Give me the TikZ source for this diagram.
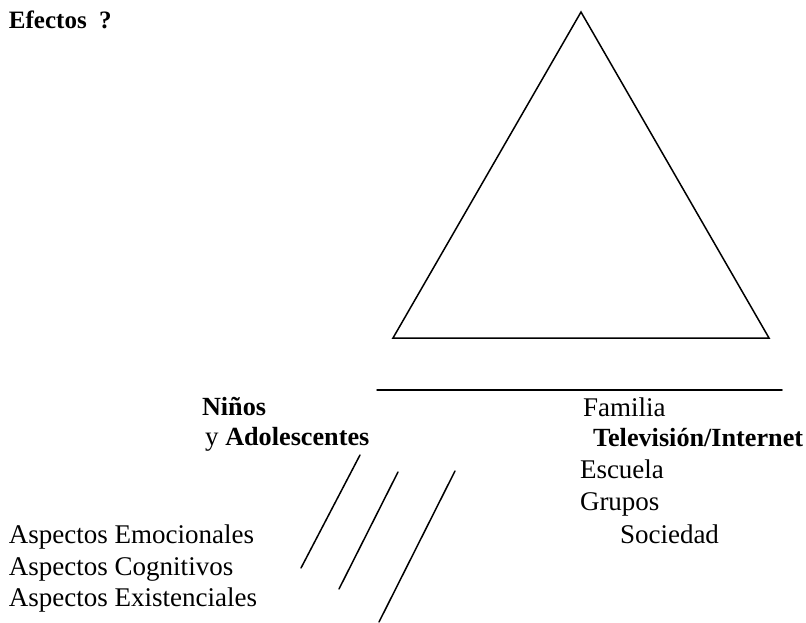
\documentclass[tikz,border=0pt]{standalone}
\usepackage{fontspec}
\setmainfont{Liberation Serif}
\begin{document}
\begin{tikzpicture}[x=1pt,y=-1pt,
  lbl/.style={anchor=base west,inner sep=0pt,outer sep=0pt,font=\fontsize{27}{31}\selectfont},
  blbl/.style={lbl,font=\fontsize{26.2}{31}\selectfont\bfseries},
  ln/.style={line width=1.5pt,line cap=round,line join=miter}]
\useasboundingbox (0,0) rectangle (806,623);
% texts
\node[lbl,font=\fontsize{25}{30}\selectfont\bfseries] (efectos) at (9,29) {Efectos\ \ ?};
\node[blbl] (ninos) at (202,415) {Niños};
\node[lbl] (adol) at (205,445) {y {\fontsize{26.2}{31}\selectfont\bfseries Adolescentes}};
\node[lbl] (familia) at (583,416) {Familia};
\node[blbl] (tv) at (593,446) {Televisión/Internet};
\node[lbl] (escuela) at (580,478) {Escuela};
\node[lbl] (grupos) at (580,510) {Grupos};
\node[lbl] (sociedad) at (620,543) {Sociedad};
\node[lbl] (emoc) at (9,543) {Aspectos Emocionales};
\node[lbl] (cogn) at (9,575) {Aspectos Cognitivos};
\node[lbl] (exist) at (9,606) {Aspectos Existenciales};
% triangle
\coordinate (apex) at (581,12);
\coordinate (bl) at (393,338);
\coordinate (br) at (769,338);
\draw[ln] (apex) -- (bl) -- (br) -- cycle;
% horizontal line
\coordinate (h1) at (377,390);
\coordinate (h2) at (782,390);
\draw[ln] (h1) -- (h2);
% slashes
\coordinate (s1a) at (360,455); \coordinate (s1b) at (301,568);
\coordinate (s2a) at (398,472); \coordinate (s2b) at (339,589);
\coordinate (s3a) at (455,471); \coordinate (s3b) at (379,622);
\draw[ln] (s1a) -- (s1b);
\draw[ln] (s2a) -- (s2b);
\draw[ln] (s3a) -- (s3b);
\end{tikzpicture}
\end{document}
